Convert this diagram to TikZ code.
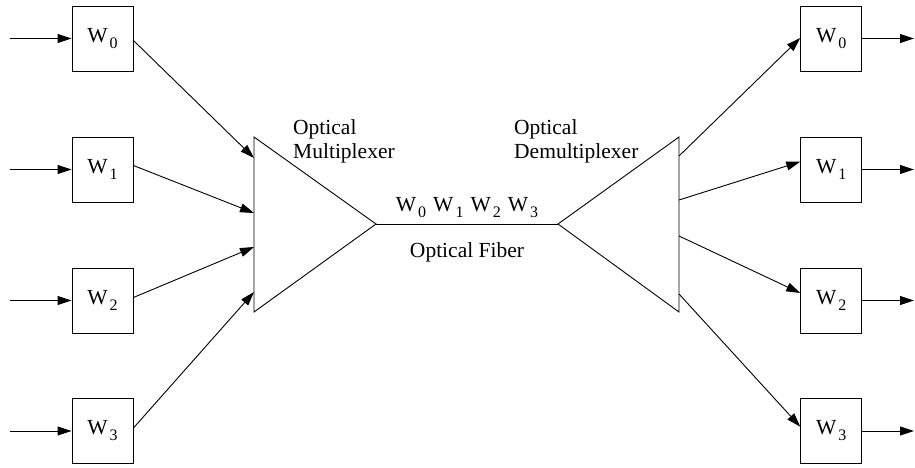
\documentclass[tikz,border=0pt]{standalone}
\usepackage{fontspec}
\setmainfont{Liberation Serif}
\usetikzlibrary{arrows.meta,calc}
\newcommand{\wsub}[1]{W\kern2pt\raisebox{-6pt}{\fontsize{16}{16}\selectfont #1}}
\begin{document}
\begin{tikzpicture}[x=1pt,y=1pt,
  wbox/.style={draw,line width=0.9pt,minimum width=61pt,minimum height=65pt,inner sep=0pt,font=\fontsize{21.5}{24}\selectfont},
  conn/.style={line width=0.9pt,-{Triangle[length=14pt,width=9pt]}},
  edge/.style={line width=0.9pt},
  lbl/.style={inner sep=0pt,font=\fontsize{21.5}{24}\selectfont,align=left}]
\useasboundingbox (0,0) rectangle (915,468);
% left boxes
\node[wbox] (l0) at (102.5,429.5) {\wsub{0}};
\node[wbox] (l1) at (102.5,298.5) {\wsub{1}};
\node[wbox] (l2) at (102.5,167.5) {\wsub{2}};
\node[wbox] (l3) at (102.5,37) {\wsub{3}};
% right boxes
\node[wbox] (r0) at (831.2,429.5) {\wsub{0}};
\node[wbox] (r1) at (831.2,298.5) {\wsub{1}};
\node[wbox] (r2) at (831.2,167.5) {\wsub{2}};
\node[wbox] (r3) at (831.2,37) {\wsub{3}};
% input / output ends
\foreach \i/\y in {0/429.5,1/298.5,2/167.5,3/37}{
  \coordinate (in\i) at (10,\y);
  \coordinate (out\i) at (914,\y);
}
% triangles
\coordinate (mt) at (254,331);
\coordinate (mb) at (254,156);
\coordinate (ma) at (376,244);
\coordinate (da) at (558,244);
\coordinate (dt) at (679,331);
\coordinate (db) at (679,156);
\draw[edge] (mt) -- (ma) -- (mb) -- cycle;
\draw[edge] (dt) -- (da) -- (db) -- cycle;
\draw[edge] (ma) -- (da);
% points on triangle edges
\coordinate (mi0) at (254,310);
\coordinate (mi1) at (254,255);
\coordinate (mi2) at (254,221);
\coordinate (mi3) at (254,176);
\coordinate (do0) at (679,312);
\coordinate (do1) at (679,268);
\coordinate (do2) at (679,232);
\coordinate (do3) at (679,174);
% connectors
\foreach \i in {0,1,2,3}{
  \draw[conn] (in\i) -- (l\i.west);
  \draw[conn] (r\i.east) -- (out\i);
}
\draw[conn] ($(l0.east)+(0,-2)$) -- (mi0);
\draw[conn] ($(l1.east)+(0,4)$) -- (mi1);
\draw[conn] ($(l2.east)+(0,3)$) -- (mi2);
\draw[conn] ($(l3.east)+(0,3)$) -- (mi3);
\draw[conn] (do0) -- ($(r0.west)+(0,0.5)$);
\draw[conn] (do1) -- ($(r1.west)+(0,7.8)$);
\draw[conn] (do2) -- ($(r2.west)+(0,7.5)$);
\draw[conn] (do3) -- ($(r3.west)+(0,4.3)$);
% labels
\node[lbl,anchor=north west] (mux) at (293,349) {Optical\\Multiplexer};
\node[lbl,anchor=north west] (demux) at (514,349) {Optical\\Demultiplexer};
\node[lbl,anchor=base] (waves) at (467,256) {\wsub{0}\hspace{7pt}\wsub{1}\hspace{7pt}\wsub{2}\hspace{7pt}\wsub{3}};
\node[lbl,anchor=base] (fiber) at (467,210) {Optical Fiber};
\end{tikzpicture}
\end{document}
